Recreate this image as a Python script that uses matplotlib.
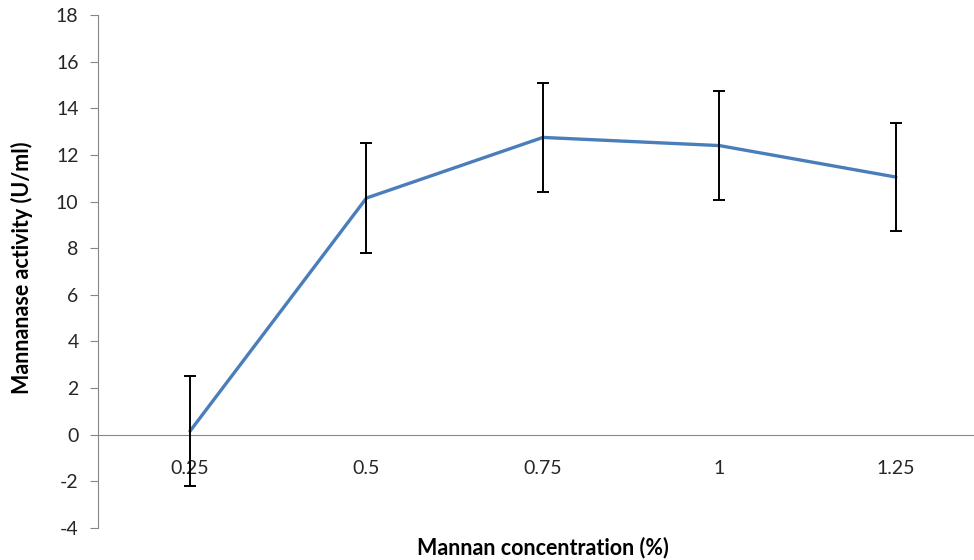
import numpy as np
import matplotlib.pyplot as plt

plt.rcParams['font.family'] = ['Lato', 'DejaVu Sans']
plt.rcParams['axes.unicode_minus'] = False

categories = ['0.25', '0.5', '0.75', '1', '1.25']
activity = [0.15, 10.15, 12.75, 12.4, 11.05]
errors = [2.35, 2.35, 2.33, 2.33, 2.33]

fig = plt.figure(figsize=(9.74, 5.6), dpi=100)
ax = fig.add_axes([98/974, 32/560, 875/974, 513/560])

x = np.arange(len(categories))
ax.plot(x, activity, color='#4a7ebb', lw=2.4, solid_capstyle='round', zorder=3)
ax.errorbar(x, activity, yerr=errors, fmt='none', ecolor='black',
            elinewidth=1.4, capsize=4.5, capthick=1.4, zorder=4)

ax.set_ylim(-4, 18)
ax.set_yticks(np.arange(-4, 19, 2))
ax.set_xlim(-0.521, 4.437)
ax.set_xticks(x)
ax.set_xticklabels(categories)

for s in ['top', 'right']:
    ax.spines[s].set_visible(False)
ax.spines['left'].set_color('#868686')
ax.spines['bottom'].set_color('#868686')
ax.spines['bottom'].set_position(('data', 0))
ax.tick_params(axis='y', length=6, color='#868686', labelsize=14,
               labelcolor='#262626', pad=8)
ax.tick_params(axis='x', length=0, labelsize=14, labelcolor='#262626', pad=18)

fig.text(22/974, 1 - 268/560, 'Mannanase activity (U/ml)', rotation=90,
         ha='center', va='center', fontsize=15.5, fontweight='bold')
fig.text(543/974, 1 - 548/560, 'Mannan concentration (%)',
         ha='center', va='center', fontsize=15.5, fontweight='bold')

fig.savefig('out.png', dpi=100)
